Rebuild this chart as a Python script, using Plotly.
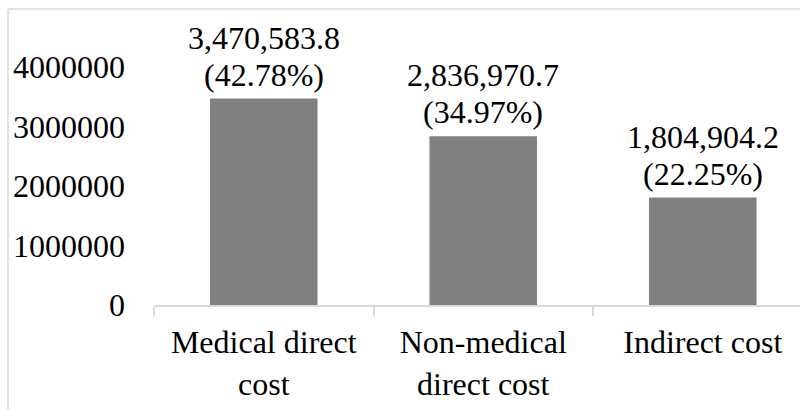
import plotly.graph_objects as go

categories = ["Medical direct<br>cost", "Non-medical<br>direct cost", "Indirect cost"]
costs = [3470583.8, 2836970.7, 1804904.2]
y_ticks = [0, 1000000, 2000000, 3000000, 4000000]

total = sum(costs)
value_text = [f"{v:,.1f}" for v in costs]
share_text = [f"({v / total * 100:.2f}%)" for v in costs]

W, H = 800, 410
ml, mr, mt, mb = 154, 0, 13, 105
plot_w = W - ml - mr
plot_h = H - mt - mb

font = dict(family="Liberation Serif, Times New Roman, serif", size=32, color="#000000")

fig = go.Figure(
    go.Bar(
        x=categories,
        y=costs,
        width=0.49,
        marker=dict(color="#808080", line=dict(width=0)),
    )
)

# two-line data labels above each bar
for cat, v, t1, t2 in zip(categories, costs, value_text, share_text):
    fig.add_annotation(x=cat, y=v, text=t2, showarrow=False, yanchor="bottom",
                       yshift=5, font=font, borderpad=0)
    fig.add_annotation(x=cat, y=v, text=t1, showarrow=False, yanchor="bottom",
                       yshift=42, font=font, borderpad=0)

# frame lines (top and left) in pixel-derived paper coords
def px_x(p):
    return (p - ml) / plot_w

def px_y(p):
    return (H - mb - p) / plot_h

frame = dict(color="#d9d9d9", width=1.5)
fig.add_shape(type="line", xref="paper", yref="paper",
              x0=px_x(8), x1=px_x(800), y0=px_y(9), y1=px_y(9), line=frame)
fig.add_shape(type="line", xref="paper", yref="paper",
              x0=px_x(8), x1=px_x(8), y0=px_y(9), y1=px_y(410), line=frame)

fig.update_layout(
    width=W,
    height=H,
    margin=dict(l=ml, r=mr, t=mt, b=mb),
    paper_bgcolor="white",
    plot_bgcolor="white",
    font=font,
    showlegend=False,
)
fig.update_xaxes(
    type="category",
    range=[-0.5, 2.443],
    showline=True,
    linecolor="#d9d9d9",
    linewidth=1.5,
    ticks="outside",
    tickson="boundaries",
    ticklen=9,
    tickcolor="#d9d9d9",
    tickwidth=1.5,
    showgrid=False,
    ticklabelstandoff=8,
    tickfont=font,
)
fig.update_yaxes(
    range=[0, plot_h / 59.5 * 1e6],
    tickvals=y_ticks,
    ticktext=[str(v) for v in y_ticks],
    showgrid=False,
    showline=False,
    zeroline=False,
    ticklabelstandoff=28,
    tickfont=font,
)

fig.write_html("out.html")
